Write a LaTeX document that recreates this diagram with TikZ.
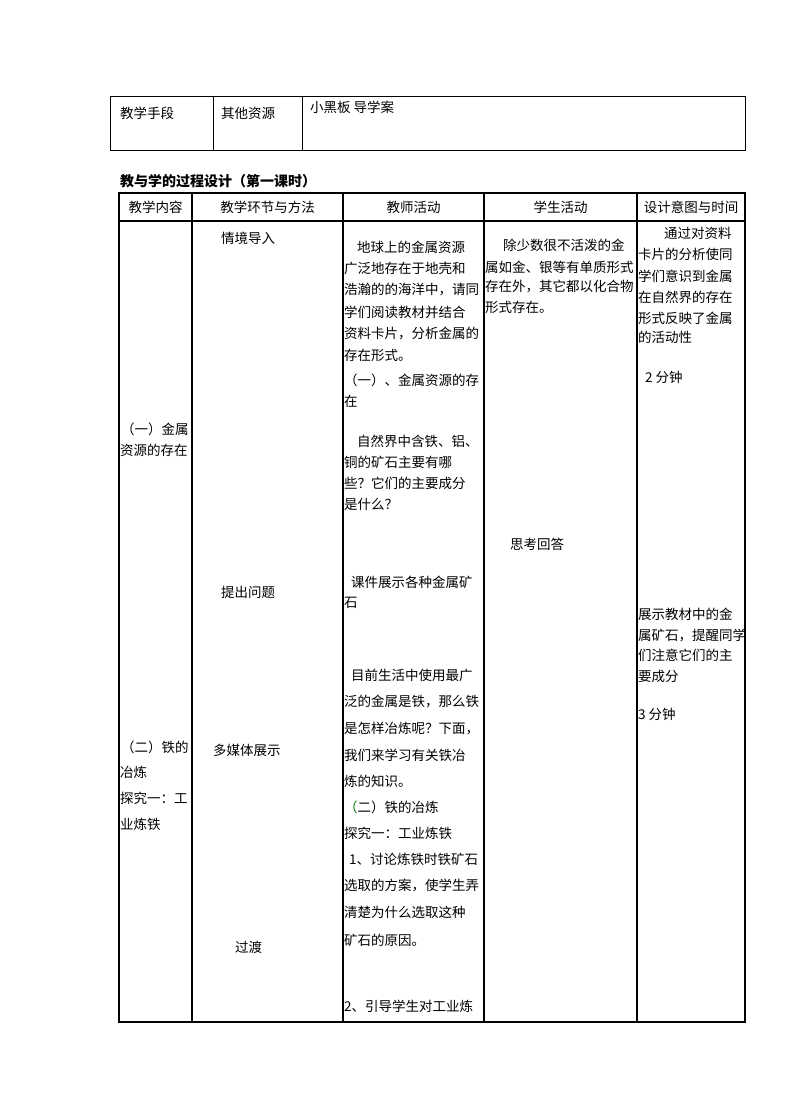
\documentclass[tikz,border=0pt]{standalone}
\usepackage{fontspec}
\setmainfont{Noto Sans CJK SC}
\begin{document}
\begin{tikzpicture}[x=1pt,y=-1pt,
                    cell/.style={anchor=west,inner sep=0pt,font=\fontsize{13.5}{16}\selectfont},
                    head/.style={anchor=center,inner sep=0pt,font=\fontsize{13.5}{16}\selectfont},
                    thinrule/.style={line width=0.9pt},
                    thickrule/.style={line width=1.6pt}]
\useasboundingbox[fill=white] (0,0) rectangle (794,1119);

% resources table
\draw[thinrule] (110,96) rectangle (745,150);
\draw[thinrule] (213,96) -- (213,150) (302,96) -- (302,150);
\node[cell] (means)  at (120,113) {教学手段};
\node[cell] (other)  at (221,113) {其他资源};
\node[cell] (board)  at (310,107) {小黑板 导学案};

% title
\node[cell,font=\fontsize{14}{16}\selectfont\bfseries] (title) at (120,181) {教与学的过程设计（第一课时）};

% process table
\draw[thickrule] (119,193) rectangle (745,1022);
\foreach \x in {192,343,484,637}
    \draw[thickrule] (\x,193) -- (\x,1022);
\draw[thickrule] (119,221) -- (745,221);

\node[head] (h1) at (155.5,207) {教学内容};
\node[head] (h2) at (267.5,207) {教学环节与方法};
\node[head] (h3) at (413.5,207) {教师活动};
\node[head] (h4) at (560.5,207) {学生活动};
\node[head] (h5) at (691,207)   {设计意图与时间};

% content
\foreach \x/\y/\t [count=\i] in {121/429/（一）金属, 120/450/资源的存在,
                                121/747/（二）铁的, 120/772/冶炼,
                                120/798/探究一：工, 120/824/业炼铁}
    \node[cell] (cont\i) at (\x,\y) {\t};

% steps
\foreach \x/\y/\t [count=\i] in {221/238/情境导入, 221/592/提出问题,
                                213/750/多媒体展示, 235/947/过渡}
    \node[cell] (step\i) at (\x,\y) {\t};

% teacher
\foreach \x/\y/\t [count=\i] in {357/247/地球上的金属资源, 344/268/广泛地存在于地壳和,
                                344/290/浩瀚的的海洋中，请同, 344/312/学们阅读教材并结合,
                                344/333/资料卡片，分析金属的, 344/355/存在形式。,
                                344/380/（一）、金属资源的存, 344/401/在,
                                357/441/自然界中含铁、铝、, 344/462/铜的矿石主要有哪,
                                344/483/些？它们的主要成分, 344/504/是什么？,
                                351/582/课件展示各种金属矿, 344/603/石,
                                351/675/目前生活中使用最广, 344/701/泛的金属是铁，那么铁,
                                344/729/是怎样冶炼呢？下面，, 344/755/我们来学习有关铁冶,
                                344/781/炼的知识。, 344/807/{\color{green!45!black}（}二）铁的冶炼,
                                344/833/探究一：工业炼铁, 349/859/1、讨论炼铁时铁矿石,
                                344/885/选取的方案，使学生弄, 344/912/清楚为什么选取这种,
                                344/940/矿石的原因。, 344/1006/2、引导学生对工业炼}
    \node[cell] (teach\i) at (\x,\y) {\t};

% students
\foreach \x/\y/\t [count=\i] in {503/245/除少数很不活泼的金, 485/267/属如金、银等有单质形式,
                                485/287/存在外，其它都以化合物, 485/307/形式存在。,
                                510/544/思考回答}
    \node[cell] (stud\i) at (\x,\y) {\t};

% intention and time
\foreach \x/\y/\t [count=\i] in {664/233/通过对资料, 638/254/卡片的分析使同,
                                638/276/学们意识到金属, 638/297/在自然界的存在,
                                638/318/形式反映了金属, 638/337/的活动性,
                                645/377/2 分钟,
                                638/614/展示教材中的金, 638/635/属矿石，提醒同学,
                                638/655/们注意它们的主, 638/676/要成分,
                                638/714/3 分钟}
    \node[cell] (aim\i) at (\x,\y) {\t};
\end{tikzpicture}
\end{document}
